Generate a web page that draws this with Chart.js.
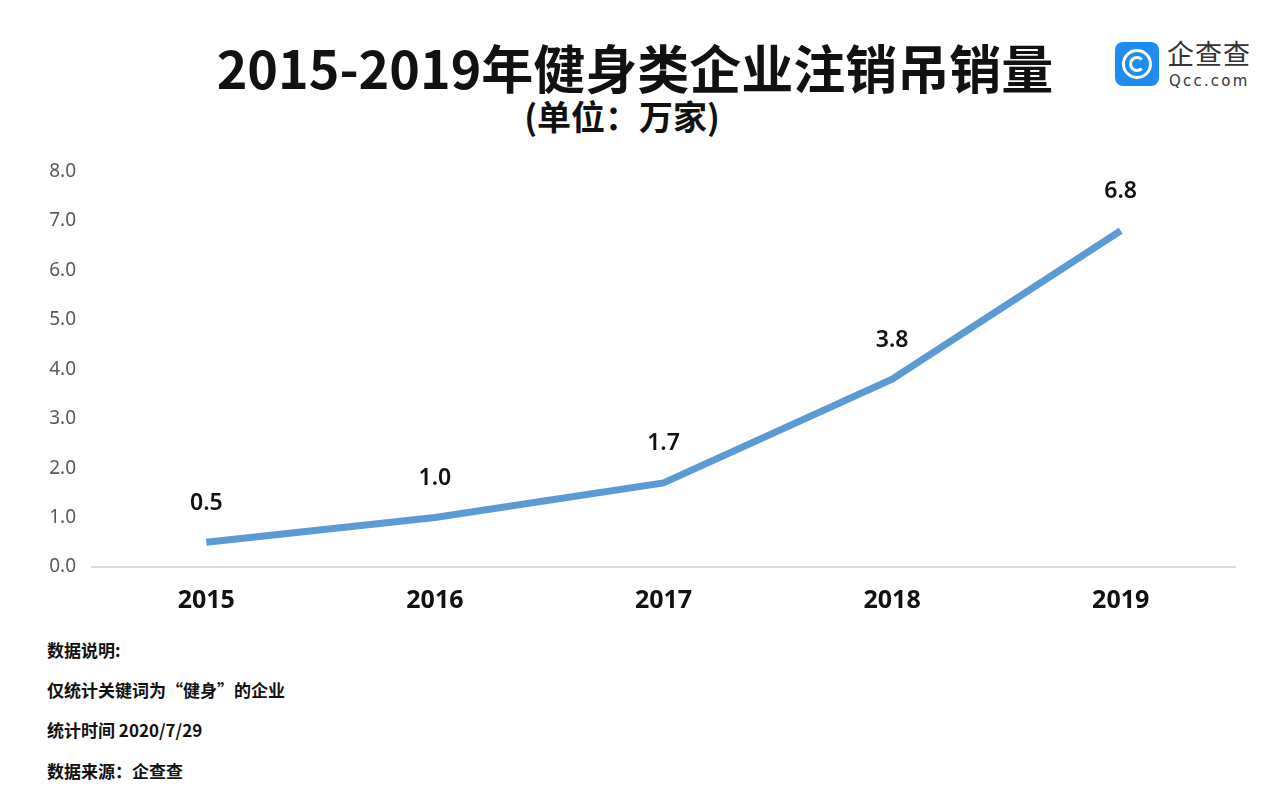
<!DOCTYPE html>
<html>
<head>
<meta charset="utf-8">
<script src="https://cdn.jsdelivr.net/npm/chart.js@4.4.0/dist/chart.umd.min.js"></script>
<style>
  html, body { margin: 0; padding: 0; background: #fff; }
  body { width: 1268px; height: 810px; position: relative; overflow: hidden;
         font-family: "Noto Sans CJK SC", "Noto Sans", sans-serif; }
  .title { position: absolute; left: 0; width: 1270px; top: 38px; text-align: center;
           font-size: 52px; line-height: 58px; font-weight: 700; color: #111; }
  .sub { position: absolute; left: 0; width: 1244px; top: 96px; text-align: center;
         font-size: 34px; line-height: 40px; font-weight: 700; color: #111; }
  .logo-box { position: absolute; left: 1115px; top: 42px; width: 44px; height: 44px;
              background: #1e8cf0; border-radius: 8px; }
  .ring { position: absolute; border-radius: 50%; border: 3px solid #fff; box-sizing: border-box; }
  .logo-cn { position: absolute; left: 1167px; top: 36px; font-size: 27px; line-height: 34px;
             color: #333; font-weight: 400; letter-spacing: 1px; }
  .logo-en { position: absolute; left: 1169px; top: 72px; font-size: 15px; line-height: 18px;
             color: #333; letter-spacing: 2.2px; font-family: "DejaVu Sans", sans-serif; }
  .wrap { position: absolute; left: 0; top: 144px; width: 1268px; height: 486px; }
  .note { position: absolute; left: 47px; font-size: 17px; line-height: 20px; font-weight: 700; color: #111; }
</style>
</head>
<body>
<div class="title">2015-2019年健身类企业注销吊销量</div>
<div class="sub">(单位：万家)</div>

<div class="logo-box">
  <div class="ring" style="left:7px;top:7px;width:30px;height:30px;"></div>
  <div class="ring" style="left:14px;top:14px;width:16px;height:16px;border-right-color:transparent;"></div>
</div>
<div class="logo-cn">企查查</div>
<div class="logo-en">Qcc.com</div>

<div class="wrap"><canvas id="c"></canvas></div>

<div class="note" style="top:640px;">数据说明:</div>
<div class="note" style="top:680px;">仅统计关键词为“健身”的企业</div>
<div class="note" style="top:720px;">统计时间 2020/7/29</div>
<div class="note" style="top:761px;">数据来源：企查查</div>

<script>
const years = ['2015', '2016', '2017', '2018', '2019'];
const closedCount = [0.5, 1.0, 1.7, 3.8, 6.8];

// 在点上方写数值
const valueLabels = {
  id: 'valueLabels',
  afterDatasetsDraw(chart) {
    const ctx = chart.ctx;
    const meta = chart.getDatasetMeta(0);
    ctx.save();
    ctx.font = '600 23px "Noto Sans", "DejaVu Sans", sans-serif';
    ctx.fillStyle = '#111';
    ctx.textAlign = 'center';
    ctx.textBaseline = 'middle';
    meta.data.forEach((pt, i) => {
      ctx.fillText(closedCount[i].toFixed(1), pt.x, pt.y - 39);
    });
    ctx.restore();
  }
};

new Chart(document.getElementById('c'), {
  type: 'line',
  data: {
    labels: years,
    datasets: [{
      data: closedCount,
      borderColor: '#5b9bd5',
      borderWidth: 7,
      pointRadius: 0,
      tension: 0,
      fill: false
    }]
  },
  options: {
    responsive: true,
    maintainAspectRatio: false,
    animation: false,
    layout: { padding: { top: 13, right: 33, left: 0, bottom: 0 } },
    plugins: { legend: { display: false }, tooltip: { enabled: false } },
    scales: {
      x: {
        offset: true,
        grid: { display: false, drawTicks: false },
        border: { display: true, color: '#d9d9d9', width: 2 },
        ticks: {
          padding: 19,
          color: '#111',
          font: { family: '"Noto Sans", "DejaVu Sans", sans-serif', size: 25, weight: '700' }
        },
        afterFit(scale) { scale.height = 63; }
      },
      y: {
        min: 0,
        max: 8,
        grid: { display: false, drawTicks: false },
        border: { display: false },
        ticks: {
          stepSize: 1,
          padding: 16,
          color: '#595959',
          font: { family: '"Noto Sans", "DejaVu Sans", sans-serif', size: 19 },
          callback: v => v.toFixed(1)
        },
        afterFit(scale) { scale.width = 92; }
      }
    }
  },
  plugins: [valueLabels]
});
</script>
</body>
</html>
